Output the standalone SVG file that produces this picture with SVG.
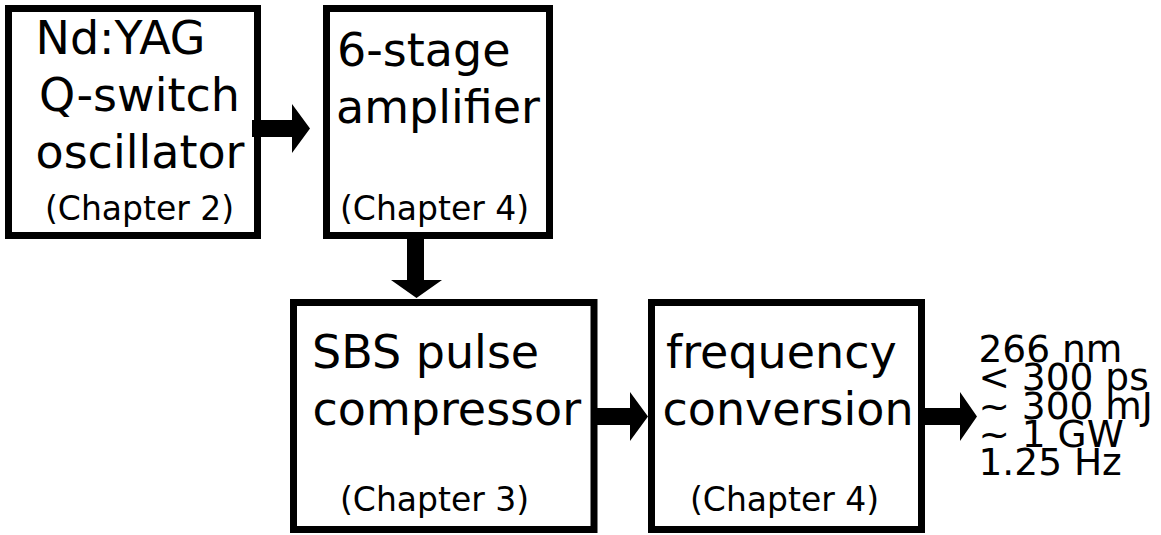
<svg xmlns="http://www.w3.org/2000/svg" width="1161" height="535" viewBox="0 0 1161 535">
<style>
.box{fill:#fff;stroke:#000;stroke-width:7}
.t{font-family:"DejaVu Sans",sans-serif;fill:#000}
.big{font-size:46px}
.small{font-size:33px}
.out{font-size:37.5px}
.arr{fill:#000;stroke:none}
</style>
<rect width="1161" height="535" fill="#fff"/>
<g id="node-oscillator">
<rect class="box" x="8.5" y="8.5" width="249" height="227"/>
<text class="t big" x="35.5" y="54">Nd:YAG</text>
<text class="t big" x="39" y="111">Q-switch</text>
<text class="t big" x="35.5" y="168">oscillator</text>
<text class="t small" x="45" y="220">(Chapter 2)</text>
</g>
<g id="node-amplifier">
<rect class="box" x="326.5" y="8.5" width="223" height="227"/>
<text class="t big" x="337" y="66">6-stage</text>
<text class="t big" x="336" y="123">amplifier</text>
<text class="t small" x="340" y="220">(Chapter 4)</text>
</g>
<g id="node-sbs">
<rect class="box" x="293.5" y="302.5" width="300.5" height="227"/>
<text class="t big" x="312" y="368">SBS pulse</text>
<text class="t big" x="312.5" y="425">compressor</text>
<text class="t small" x="340" y="511">(Chapter 3)</text>
</g>
<g id="node-frequency">
<rect class="box" x="651.5" y="302.5" width="270" height="227"/>
<text class="t big" x="666" y="368">frequency</text>
<text class="t big" x="662.5" y="425">conversion</text>
<text class="t small" x="690" y="511">(Chapter 4)</text>
</g>
<g id="output-specs">
<text class="t out" x="978.5" y="362">266 nm</text>
<text class="t out" x="978.5" y="390">&lt; 300 ps</text>
<text class="t out" x="978.5" y="418.5">~ 300 mJ</text>
<text class="t out" x="978.5" y="447">~ 1 GW</text>
<text class="t out" x="978.5" y="475">1.25 Hz</text>
</g>
<g id="connectors">
<polygon class="arr" points="252,120 292,120 292,104 310,128.5 292,153 292,137 252,137"/>
<polygon class="arr" points="407,239 424,239 424,280 442,280 416.5,298 391,280 407,280"/>
<polygon class="arr" points="597,408 630,408 630,392 648,416.5 630,441 630,425 597,425"/>
<polygon class="arr" points="925,408 960,408 960,392 977,416.5 960,441 960,425 925,425"/>
</g>
</svg>
